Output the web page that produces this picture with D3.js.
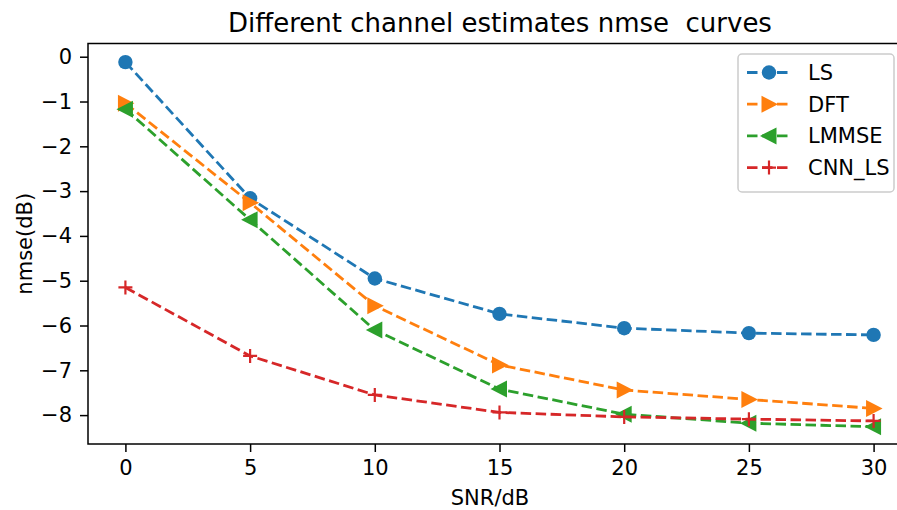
<!DOCTYPE html>
<html>
<head>
<meta charset="utf-8">
<script src="https://cdn.jsdelivr.net/npm/d3@7"></script>
<style>
  body { margin: 0; background: #fff; }
  svg { display: block; font-family: "DejaVu Sans", sans-serif; }
</style>
</head>
<body>
<svg id="chart" width="897" height="510"></svg>
<script>
// Chart data
const snr = [0, 5, 10, 15, 20, 25, 30];
const lsValues = [-0.12, -3.16, -4.95, -5.74, -6.06, -6.17, -6.21];
const dftValues = [-1.04, -3.26, -5.56, -6.88, -7.44, -7.65, -7.85];
const lmmseValues = [-1.17, -3.64, -6.10, -7.42, -7.98, -8.18, -8.26];
const cnnValues = [-5.15, -6.68, -7.55, -7.94, -8.04, -8.09, -8.13];
const xTicks = [0, 5, 10, 15, 20, 25, 30];
const yTicks = [0, -1, -2, -3, -4, -5, -6, -7, -8];
const seriesNames = ["LS", "DFT", "LMMSE", "CNN_LS"];

const svg = d3.select("#chart");

// Plot area (right side runs past the picture edge, like the reference)
const plotLeft = 88, plotRight = 911, plotTop = 43.5, plotBottom = 444;

const x = d3.scaleLinear().domain([-1.5, 31.5]).range([plotLeft, plotRight]);
const y = d3.scaleLinear().domain([-8.645, 0.295]).range([plotBottom, plotTop]);

const series = [
    { name: seriesNames[0], values: lsValues, color: "#1f77b4", marker: "circle" },
    { name: seriesNames[1], values: dftValues, color: "#ff7f0e", marker: "right" },
    { name: seriesNames[2], values: lmmseValues, color: "#2ca02c", marker: "left" },
    { name: seriesNames[3], values: cnnValues, color: "#d62728", marker: "plus" }
];

// Axes
const xAxis = d3.axisBottom(x).tickValues(xTicks).tickSize(8).tickPadding(8.5).tickFormat(d3.format("d"));
const yAxis = d3.axisLeft(y).tickValues(yTicks).tickSize(8).tickPadding(8)
    .tickFormat(d => d < 0 ? "\u2212" + Math.abs(d) : d);

const gx = svg.append("g").attr("transform", `translate(0,${plotBottom})`).call(xAxis);
const gy = svg.append("g").attr("transform", `translate(${plotLeft},0)`).call(yAxis);
[gx, gy].forEach(g => {
    g.select(".domain").remove();
    g.selectAll(".tick line").attr("stroke", "#000").attr("stroke-width", 1.5);
    g.selectAll(".tick text").attr("fill", "#000").style("font-size", "21px")
        .style("font-family", "DejaVu Sans, sans-serif");
});

// Frame
svg.append("rect")
    .attr("x", plotLeft).attr("y", plotTop)
    .attr("width", plotRight - plotLeft).attr("height", plotBottom - plotTop)
    .attr("fill", "none").attr("stroke", "#000").attr("stroke-width", 1.5);

// Marker drawing
function drawMarker(g, type, color) {
    if (type === "circle") {
        g.append("circle").attr("r", 7.2).attr("fill", color);
    } else if (type === "right") {
        g.append("path").attr("d", "M-7.5,-8.5L9,0L-7.5,8.5Z").attr("fill", color);
    } else if (type === "left") {
        g.append("path").attr("d", "M7.5,-8.5L-9,0L7.5,8.5Z").attr("fill", color);
    } else {
        g.append("path").attr("d", "M-7,0H7M0,-7V7")
            .attr("stroke", color).attr("stroke-width", 2.2).attr("fill", "none");
    }
}

const line = d3.line().x((d, i) => x(snr[i])).y(d => y(d));

series.forEach(s => {
    svg.append("path")
        .datum(s.values)
        .attr("d", line)
        .attr("fill", "none")
        .attr("stroke", s.color)
        .attr("stroke-width", 2.8)
        .attr("stroke-dasharray", "10.5,4.5");
    s.values.forEach((v, i) => {
        const g = svg.append("g").attr("transform", `translate(${x(snr[i])},${y(v)})`);
        drawMarker(g, s.marker, s.color);
    });
});

// Title and axis labels
svg.append("text")
    .attr("x", 500).attr("y", 32)
    .attr("text-anchor", "middle")
    .style("font-size", "26px")
    .style("white-space", "pre")
    .attr("xml:space", "preserve")
    .text("Different channel estimates nmse  curves");

svg.append("text")
    .attr("x", 490).attr("y", 505)
    .attr("text-anchor", "middle")
    .style("font-size", "21px")
    .text("SNR/dB");

svg.append("text")
    .attr("transform", `translate(32,${(plotTop + plotBottom) / 2}) rotate(-90)`)
    .attr("text-anchor", "middle")
    .style("font-size", "21px")
    .text("nmse(dB)");

// Legend
const legend = svg.append("g").attr("transform", "translate(738,54)");
legend.append("rect")
    .attr("width", 156).attr("height", 138)
    .attr("rx", 4)
    .attr("fill", "#fff").attr("fill-opacity", 0.8)
    .attr("stroke", "#ccc").attr("stroke-width", 1.5);

series.forEach((s, i) => {
    const row = legend.append("g").attr("transform", `translate(0,${18.5 + i * 31.7})`);
    row.append("line")
        .attr("x1", 9).attr("x2", 53)
        .attr("stroke", s.color).attr("stroke-width", 2.8)
        .attr("stroke-dasharray", "10.5,4.5");
    const m = row.append("g").attr("transform", "translate(31,0)");
    drawMarker(m, s.marker, s.color);
    row.append("text")
        .attr("x", 70).attr("y", 7.5)
        .style("font-size", "21px")
        .text(s.name);
});
</script>
</body>
</html>
